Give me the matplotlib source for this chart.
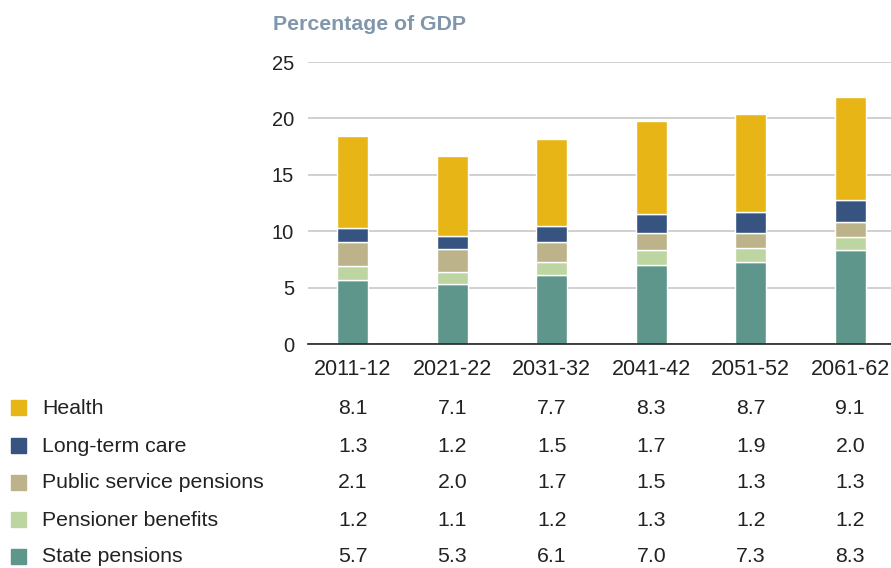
import matplotlib
matplotlib.use("Agg")
import matplotlib.pyplot as plt
import numpy as np

plt.rcParams['font.family'] = ['Liberation Sans', 'DejaVu Sans']

periods = ["2011-12", "2021-22", "2031-32", "2041-42", "2051-52", "2061-62"]
state_pensions = [5.7, 5.3, 6.1, 7.0, 7.3, 8.3]
pensioner_benefits = [1.2, 1.1, 1.2, 1.3, 1.2, 1.2]
public_service_pensions = [2.1, 2.0, 1.7, 1.5, 1.3, 1.3]
long_term_care = [1.3, 1.2, 1.5, 1.7, 1.9, 2.0]
health = [8.1, 7.1, 7.7, 8.3, 8.7, 9.1]

series_names = ["State pensions", "Pensioner benefits", "Public service pensions",
                "Long-term care", "Health"]
series_values = [state_pensions, pensioner_benefits, public_service_pensions,
                 long_term_care, health]
colors = ["#5E968B", "#BDD5A0", "#BDB38A", "#36547F", "#E8B517"]

W, H = 891, 568
fig = plt.figure(figsize=(W / 100, H / 100), dpi=100)
ax_left, ax_right, ax_top, ax_bottom = 308, 891, 62, 344
ax = fig.add_axes([ax_left / W, 1 - ax_bottom / H,
                   (ax_right - ax_left) / W, (ax_bottom - ax_top) / H])

x = np.arange(len(periods))
bottom = np.zeros(len(periods))
for name, vals, c in zip(series_names, series_values, colors):
    ax.bar(x, vals, width=0.31, bottom=bottom, color=c, edgecolor="white",
           linewidth=1.0, zorder=3)
    bottom += np.array(vals)

ax.set_ylim(0, 25)
ax.set_xlim(-0.45, 5.41)
ax.set_yticks([0, 5, 10, 15, 20, 25])
ax.yaxis.grid(True, color="#c8c8c8", linewidth=1.2, zorder=0)
ax.set_axisbelow(True)
for s in ["top", "right", "left"]:
    ax.spines[s].set_visible(False)
ax.spines["bottom"].set_color("#222222")
ax.spines["bottom"].set_linewidth(1.2)
ax.spines["bottom"].set_zorder(4)
ax.tick_params(axis="y", length=0, pad=10, labelsize=14.5, labelcolor="#222222")
ax.tick_params(axis="x", length=0, pad=11, labelsize=15.5, labelcolor="#222222")
ax.set_xticks(x)
ax.set_xticklabels(periods)

fig.text(273 / W, 1 - 24 / H, "Percentage of GDP", fontsize=15.3,
         fontweight="bold", color="#7F96AB", va="center", ha="left")

# Data table beneath the chart
row_y = [408, 446, 483, 520, 557]
for i, idx in enumerate(range(len(series_names) - 1, -1, -1)):
    yy = 1 - row_y[i] / H
    fig.patches.append(plt.Rectangle((11 / W, yy - 7 / H), 15 / W, 15 / H,
                                     transform=fig.transFigure,
                                     color=colors[idx], figure=fig))
    fig.text(42 / W, yy, series_names[idx], fontsize=15.3, color="#222222",
             va="center", ha="left")
    for j, v in enumerate(series_values[idx]):
        xd = ax.transData.transform((x[j], 0))[0]
        xf = fig.transFigure.inverted().transform((xd, 0))[0]
        fig.text(xf, yy, f"{v:.1f}", fontsize=15.3, color="#222222",
                 va="center", ha="center")

fig.savefig("out.png", dpi=100)
